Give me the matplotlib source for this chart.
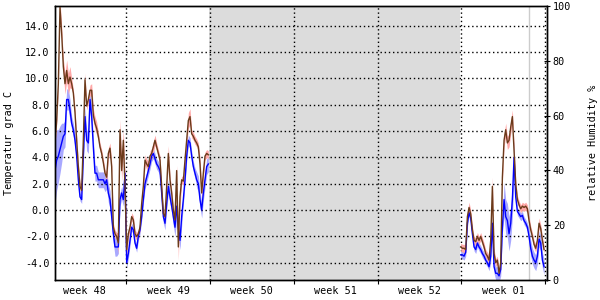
import numpy as np
import matplotlib
matplotlib.use("Agg")
import matplotlib.pyplot as plt

# --------------------------------------------------------------------------- #
# Data (x in days since Monday of week 48, one reading every ~3h20m)
# --------------------------------------------------------------------------- #
STEP = 0.1393
start_a = 1.04   # week 48 / 49 block
start_b = 34.95  # week 01 block

temp_a = [5.1, 6.8, 9.6, 15.4, 13.4, 10.9, 9.6, 10.6, 9.6, 10.1,
          9.6, 8.9, 7.4, 5.3, 3.3, 1.8, 1.5, 5.3, 9.9, 7.9,
          8.4, 9.1, 9.1, 7.2, 6.6, 6.2, 5.6, 4.8, 4.3, 3.6,
          2.8, 2.5, 4.3, 4.7, 3.3, -1.3, -1.8, -2.0, -2.5, 6.1,
          3.0, 5.3, 1.8, -3.0, -1.8, -1.3, -0.5, -0.75, -1.8, -2.0,
          -1.8, -1.3, 0.5, 1.8, 3.8, 3.5, 3.3, 4.1, 4.3, 4.8,
          5.3, 4.8, 4.3, 3.8, 1.8, -0.25, -0.5, 1.8, 4.3, 2.3,
          1.3, 0.0, -0.75, 3.0, -2.8, 1.0, 2.3, 2.2, 3.8, 5.3,
          6.8, 7.1, 5.8, 5.6, 5.3, 5.1, 4.8, 3.5, 1.3, 2.8,
          4.1, 4.3, 4.2]
temp_rng_a = [0.3, 0.3, 0.4, 0.6, 0.5, 0.6, 0.8, 0.8, 0.8, 0.8,
              0.4, 0.3, 0.3, 0.3, 0.3, 0.3, 0.3, 0.3, 0.5, 0.3,
              0.3, 0.4, 0.5, 0.5, 0.5, 0.5, 0.3, 0.3, 0.3, 0.3,
              0.3, 0.4, 0.4, 0.4, 0.4, 0.3, 0.3, 0.3, 0.8, 0.8,
              0.8, 0.8, 0.8, 0.6, 0.3, 0.3, 0.3, 0.3, 0.3, 0.3,
              0.3, 0.3, 0.3, 0.3, 0.4, 0.4, 0.4, 0.4, 0.4, 0.4,
              0.4, 0.3, 0.3, 0.3, 0.3, 0.3, 0.5, 0.5, 0.6, 0.3,
              0.3, 0.3, 0.3, 0.4, 1.0, 0.8, 0.3, 0.3, 0.3, 0.3,
              0.6, 0.6, 0.3, 0.3, 0.3, 0.3, 0.3, 0.5, 0.5, 0.5,
              0.3, 0.3, 0.3]
dew_a = [3.0, 3.8, 4.1, 4.6, 5.1, 5.6, 5.8, 8.4, 8.4, 7.6,
         6.6, 6.1, 5.3, 4.1, 2.3, 1.0, 0.8, 4.1, 7.1, 5.3,
         5.1, 8.4, 7.1, 4.8, 2.8, 2.8, 2.3, 2.3, 2.3, 2.3,
         2.0, 2.3, 1.3, 0.8, -0.5, -1.8, -2.8, -2.8, -2.8, 0.8,
         1.3, 0.8, 2.8, -4.0, -3.3, -2.3, -1.3, -1.5, -2.5, -2.9,
         -2.0, -1.5, -0.5, 0.8, 2.0, 2.5, 3.0, 3.5, 4.1, 4.3,
         3.9, 3.5, 3.3, 3.0, 1.3, -0.5, -1.0, 0.5, 1.8, 1.0,
         0.3, -0.5, -1.3, 0.3, -1.3, -2.3, -0.5, 0.8, 2.3, 4.1,
         5.3, 5.1, 4.1, 3.3, 2.8, 2.3, 2.0, 0.8, 0.0, 1.3,
         2.3, 3.3, 3.5]
dew_rng_a = [2.5, 2.3, 2.0, 1.8, 1.5, 1.0, 1.0, 0.8, 0.8, 0.8,
             0.5, 0.5, 0.5, 0.5, 0.5, 0.3, 0.3, 0.3, 0.8, 0.8,
             0.8, 0.8, 0.8, 0.6, 0.6, 0.6, 0.6, 0.6, 0.6, 0.6,
             0.6, 0.7, 0.7, 0.7, 0.7, 0.7, 0.7, 0.7, 0.5, 0.5,
             0.5, 0.5, 0.5, 0.4, 0.4, 0.4, 0.3, 0.3, 0.3, 0.3,
             0.3, 0.3, 0.3, 0.3, 0.4, 0.4, 0.4, 0.4, 0.4, 0.4,
             0.4, 0.4, 0.4, 0.4, 0.5, 0.5, 0.5, 0.5, 0.5, 0.5,
             0.5, 0.7, 0.7, 0.9, 0.7, 0.7, 0.7, 0.4, 0.4, 0.4,
             0.4, 0.4, 0.4, 0.4, 0.4, 0.6, 0.6, 0.6, 0.6, 0.6,
             0.6, 0.6, 0.6]

temp_b = [-2.8, -2.9, -2.9, -3.0, -0.5, 0.2, -0.3, -1.5, -2.3, -2.4,
          -2.0, -2.3, -2.0, -2.4, -2.8, -3.3, -3.5, -3.8, -2.3, 1.8,
          -3.3, -4.0, -3.8, -4.8, -4.0, 2.5, 5.3, 6.1, 5.1, 5.3,
          6.3, 7.1, 4.5, 2.0, 0.8, 0.4, 0.1, 0.3, 0.2, 0.3,
          0.1, -0.8, -1.5, -2.0, -2.6, -2.9, -2.3, -1.0, -1.4, -2.3,
          -3.0]
temp_rng_b = [0.3, 0.3, 0.3, 0.3, 0.3, 0.4, 0.3, 0.3, 0.3, 0.3,
              0.3, 0.3, 0.3, 0.3, 0.3, 0.3, 0.3, 0.3, 0.4, 0.7,
              0.4, 0.3, 0.3, 0.3, 0.4, 0.4, 0.5, 0.5, 0.5, 0.5,
              0.5, 0.5, 0.4, 0.3, 0.3, 0.3, 0.3, 0.3, 0.3, 0.3,
              0.3, 0.3, 0.3, 0.3, 0.3, 0.3, 0.3, 0.4, 0.3, 0.3,
              0.3]
dew_b = [-3.4, -3.4, -3.5, -3.2, -1.0, -0.2, -0.6, -1.8, -2.8, -3.0,
         -2.5, -2.8, -3.0, -3.3, -3.5, -3.8, -4.0, -4.3, -3.5, -1.0,
         -4.3, -4.8, -4.8, -5.0, -4.5, -1.3, 0.8, -0.5, -0.8, -1.8,
         -1.0, 0.8, 4.0, 1.0, -0.1, -0.3, -0.5, -0.4, -0.8, -1.0,
         -1.3, -2.0, -2.9, -3.5, -3.8, -4.0, -3.5, -2.2, -2.5, -3.8,
         -4.3]
dew_rng_b = [0.3, 0.3, 0.3, 0.3, 0.3, 0.3, 0.3, 0.3, 0.3, 0.3,
             0.3, 0.3, 0.3, 0.3, 0.3, 0.3, 0.3, 0.3, 0.5, 0.5,
             0.5, 0.5, 0.5, 0.5, 0.5, 0.5, 1.3, 1.3, 1.3, 1.3,
             1.3, 1.3, 1.3, 0.3, 0.3, 0.3, 0.3, 0.3, 0.3, 0.3,
             0.3, 0.6, 0.6, 0.6, 0.6, 0.6, 0.6, 0.6, 0.6, 0.6,
             0.6]

week_labels = ["week 48", "week 49", "week 50", "week 51", "week 52", "week 01"]
week_starts = [0, 7, 14, 21, 28, 35, 42]
no_data = (13.95, 34.93)
now_day = 40.66
temp_ticks = [-4, -2, 0, 2, 4, 6, 8, 10, 12, 14]
hum_ticks = [0, 20, 40, 60, 80, 100]

BROWN = "#6b3a1a"
PINK = "#ffa8a8"
BLUE = "#0000ff"
LIGHTBLUE = "#a8a8ff"
FONT = "DejaVu Sans Mono"

plt.rcParams["font.family"] = FONT
plt.rcParams["font.size"] = 7.3

fig = plt.figure(figsize=(6, 3), dpi=100)
ax = fig.add_axes([55 / 600, 20 / 300, 491.5 / 600, 274 / 300])

ax.axvspan(*no_data, color="#dcdcdc", lw=0, zorder=0)
ax.axvline(now_day, color="#cccccc", lw=1, zorder=1)

for start, temp, trng, dew, drng in [
    (start_a, temp_a, temp_rng_a, dew_a, dew_rng_a),
    (start_b, temp_b, temp_rng_b, dew_b, dew_rng_b),
]:
    t = start + np.arange(len(temp)) * STEP
    temp, trng = np.array(temp), np.array(trng)
    dew, drng = np.array(dew), np.array(drng)
    ax.fill_between(t, dew - drng, dew + drng, color=LIGHTBLUE, lw=0, zorder=2)
    ax.fill_between(t, temp - trng, temp + trng, color=PINK, lw=0, zorder=3)
    ax.plot(t, dew, color=BLUE, lw=1, zorder=4)
    ax.plot(t, temp, color=BROWN, lw=1, zorder=5)

ax.set_xticks(week_starts)
ax.set_xticklabels([])
ax.set_xticks([s + 3.5 for s in week_starts[:-1]], minor=True)
ax.set_xticklabels(week_labels, minor=True)
ax.tick_params(axis="x", which="major", length=3, direction="out")
ax.tick_params(axis="x", which="minor", length=0, pad=4)

ax.set_yticks(temp_ticks)
ax.set_yticklabels([f"{v:.1f}" for v in temp_ticks])
ax.tick_params(axis="y", length=0, pad=4)
ax.set_ylabel("Temperatur grad C", labelpad=8)

# set limits after the ticks, which would otherwise widen the view
ax.set_xlim(1.04, 42.12)
ax.set_ylim(-5.31, 15.5)

ax.grid(True, which="major", color="black", ls=(0, (1, 2)), lw=1)
ax.set_axisbelow(False)
for sp in ax.spines.values():
    sp.set_color("black")
    sp.set_linewidth(1)

ax2 = ax.twinx()
ax2.set_yticks(hum_ticks)
ax2.set_ylim(0, 100)
ax2.tick_params(axis="y", length=5, direction="inout", pad=2)
ax2.set_ylabel("relative Humidity %", rotation=90, labelpad=12)
for sp in ax2.spines.values():
    sp.set_color("black")
    sp.set_linewidth(1)

fig.savefig("out.png", dpi=100)
